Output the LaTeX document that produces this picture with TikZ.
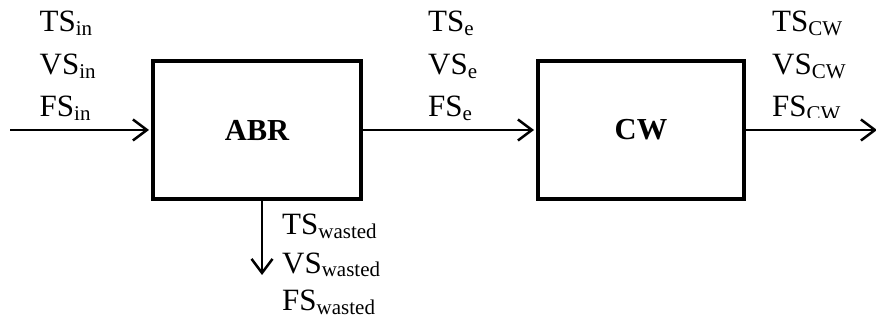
\documentclass[tikz,border=0pt]{standalone}
\usepackage{fontspec}
\setmainfont{Liberation Serif}
\usetikzlibrary{arrows.meta}
\newcommand{\sbt}[1]{\raisebox{-3.5pt}{\fontsize{21}{21}\selectfont #1}}
\tikzset{
  procbox/.style={draw, line width=4pt, inner sep=0pt, font=\fontsize{30.5}{36}\selectfont\bfseries},
  flow/.style={line width=2.5pt, -{Straight Barb[length=14pt,width=21pt,line width=2.5pt]}},
  lbl/.style={anchor=base west, inner sep=0pt, font=\fontsize{31}{36}\selectfont}
}
\begin{document}
\begin{tikzpicture}[x=1pt,y=-1pt]
\useasboundingbox (0,0) rectangle (876,323);
% boxes
\node[procbox, minimum width=208pt, minimum height=138pt] (abr) at (257,130) {ABR};
\node[procbox, minimum width=206pt, minimum height=138pt] (cw) at (641,130) {CW};
% free ends
\coordinate (inL) at (10,130);
\coordinate (outR) at (877,130);
\coordinate (wst) at (262,275);
% connectors
\draw[flow] (inL) -- ([xshift=-2pt]abr.west);
\draw[flow] (abr.east) -- ([xshift=-2pt]cw.west);
\draw[flow] (cw.east) -- (outR);
\draw[flow] ([xshift=5pt]abr.south) -- (wst);
% labels: inlet
\node[lbl] (tsin) at (39.5,32) {TS\sbt{in}};
\node[lbl] (vsin) at (39.5,75) {VS\sbt{in}};
\node[lbl] (fsin) at (39.5,117) {FS\sbt{in}};
% labels: effluent
\node[lbl] (tse) at (428,32) {TS\sbt{e}};
\node[lbl] (vse) at (428,75) {VS\sbt{e}};
\node[lbl] (fse) at (428,117) {FS\sbt{e}};
% labels: CW outlet
\node[lbl] (tscw) at (772,32) {TS\sbt{CW}};
\node[lbl] (vscw) at (772,75) {VS\sbt{CW}};
\begin{scope}
\clip (740,80) rectangle (876,117.5);
\node[lbl] (fscw) at (772,117) {FS\sbt{CW}};
\end{scope}
% labels: wasted
\node[lbl] (tsw) at (282,235) {TS\sbt{wasted}};
\node[lbl] (vsw) at (282,273) {VS\sbt{wasted}};
\node[lbl] (fsw) at (282,311) {FS\sbt{wasted}};
\end{tikzpicture}
\end{document}
